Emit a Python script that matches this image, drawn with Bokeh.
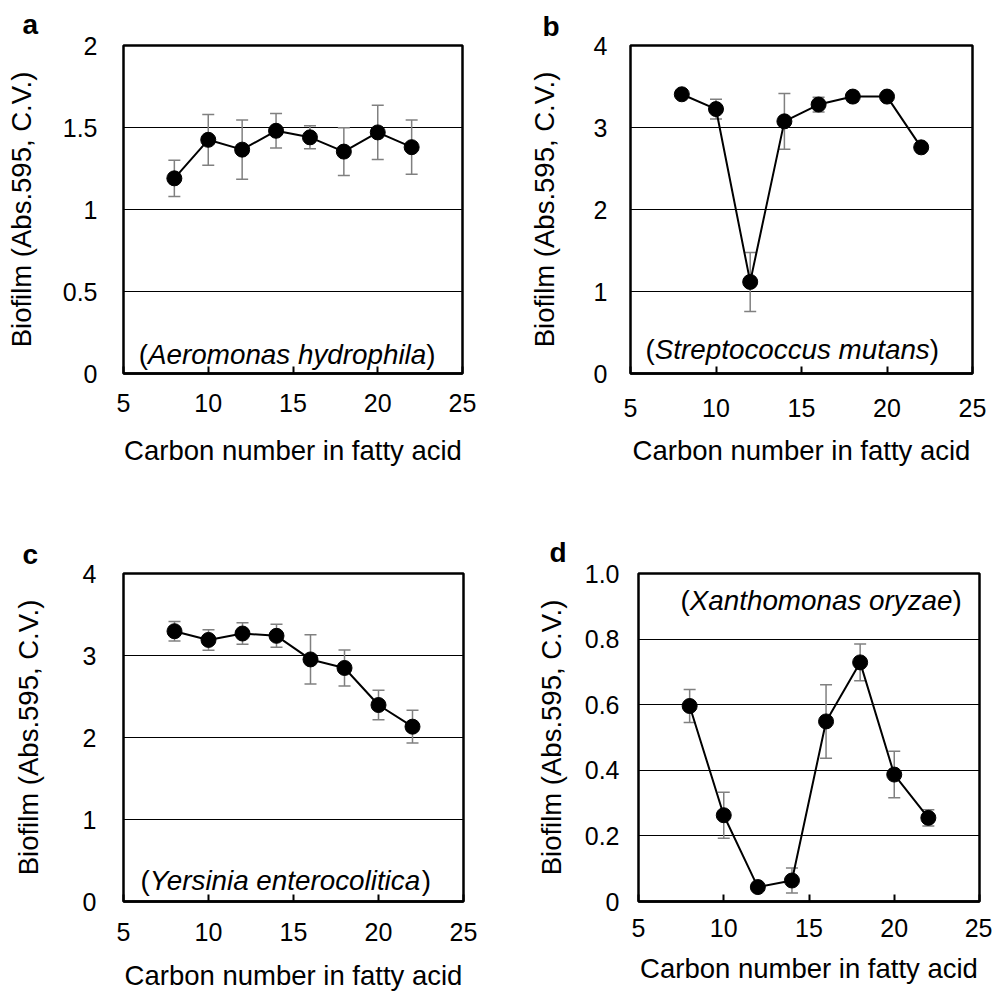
from bokeh.plotting import figure
from bokeh.layouts import column, row
from bokeh.models import (Range1d, FixedTicker, Whisker, TeeHead, ColumnDataSource,
                          Label, CustomJSTickFormatter)
from bokeh.embed import file_html
from bokeh.resources import INLINE

# ---------------- data ----------------
carbon = [8, 10, 12, 14, 16, 18, 20, 22]

a_mean = [1.19, 1.425, 1.365, 1.48, 1.44, 1.353, 1.47, 1.38]
a_err = [0.11, 0.155, 0.18, 0.105, 0.07, 0.145, 0.165, 0.165]

b_mean = [3.405, 3.225, 1.117, 3.075, 3.28, 3.377, 3.377, 2.758]
b_err = [0.04, 0.12, 0.36, 0.34, 0.09, 0.06, 0.03, 0.04]

c_mean = [3.296, 3.19, 3.268, 3.24, 2.952, 2.848, 2.396, 2.132]
c_err = [0.12, 0.125, 0.13, 0.14, 0.30, 0.22, 0.18, 0.20]

d_mean = [0.596, 0.263, 0.044, 0.064, 0.549, 0.729, 0.387, 0.255]
d_err = [0.05, 0.07, 0.0, 0.038, 0.112, 0.056, 0.071, 0.025]

x_ticks = [5, 10, 15, 20, 25]
a_yticks = [0, 0.5, 1, 1.5, 2]
a_ylabels = ["0", "0.5", "1", "1.5", "2"]
bc_yticks = [0, 1, 2, 3, 4]
bc_ylabels = ["0", "1", "2", "3", "4"]
d_yticks = [0, 0.2, 0.4, 0.6, 0.8, 1.0]
d_ylabels = ["0", "0.2", "0.4", "0.6", "0.8", "1.0"]

x_title = "Carbon number in fatty acid"
y_title = "Biofilm (Abs.595, C.V.)"
species = ["Aeromonas hydrophila", "Streptococcus mutans",
           "Yersinia enterocolitica", "Xanthomonas oryzae"]
letters = ["a", "b", "c", "d"]

FONT = "Liberation Sans"
TICK_FS = "25px"
TITLE_FS = "27.5px"
SP_FS = 27.8

# Arial / Liberation Sans advance widths (per 1000 em) for placing the parentheses
ADV = dict(zip("abcdefghijklmnopqrstuvwxyz",
               [556, 556, 500, 556, 556, 278, 556, 556, 222, 222, 500, 222, 833,
                556, 556, 556, 556, 333, 500, 278, 556, 500, 722, 500, 500, 500]))
ADV.update({" ": 278, "A": 667, "S": 667, "X": 667, "Y": 667, "(": 333, ")": 333})


def text_w(s, fs):
    return sum(ADV.get(ch, 556) for ch in s) * fs / 1000.0


def panel(width, height, bl, br, bt, bb, ymax, yticks, ylabels, mean, err,
          letter, name, ylab_so, ytitle_so, xlab_so, xtitle_so,
          letter_dx, letter_so, sp_x, sp_y, xtitle_lh=1.2):
    p = figure(width=width, height=height, x_range=Range1d(5, 25), y_range=Range1d(0, ymax),
               output_backend="svg", toolbar_location=None,
               min_border_left=bl, min_border_right=br, min_border_top=bt, min_border_bottom=bb)
    p.background_fill_color = "white"
    p.border_fill_color = "white"
    p.outline_line_color = "black"
    p.outline_line_width = 2.5

    p.title.text = letter
    p.title.align = "left"
    p.title.offset = letter_dx
    p.title.standoff = int(letter_so)
    p.title.text_font = FONT
    p.title.text_font_size = "28px"
    p.title.text_font_style = "bold"
    p.title.text_color = "black"

    p.xgrid.visible = False
    p.ygrid.ticker = FixedTicker(ticks=yticks)
    p.ygrid.grid_line_color = "black"
    p.ygrid.grid_line_width = 1

    xa = p.xaxis[0]
    xa.ticker = FixedTicker(ticks=x_ticks)
    xa.major_tick_in = 7
    xa.major_tick_out = 0
    xa.major_tick_line_width = 2
    xa.minor_tick_line_color = None
    xa.axis_line_width = 2.5
    xa.major_label_text_font = FONT
    xa.major_label_text_font_size = TICK_FS
    xa.major_label_text_color = "black"
    xa.major_label_standoff = int(xlab_so)
    xa.axis_label = x_title
    xa.axis_label_text_font = FONT
    xa.axis_label_text_font_size = TITLE_FS
    xa.axis_label_text_font_style = "normal"
    xa.axis_label_text_color = "black"
    xa.axis_label_text_line_height = xtitle_lh
    xa.axis_label_standoff = int(xtitle_so)

    ya = p.yaxis[0]
    ya.ticker = FixedTicker(ticks=yticks)
    ya.formatter = CustomJSTickFormatter(
        args=dict(tvals=yticks, tlabels=ylabels),
        code="const i = tvals.indexOf(tick); return i >= 0 ? tlabels[i] : String(tick);")
    ya.major_tick_in = 0
    ya.major_tick_out = 0
    ya.major_tick_line_color = None
    ya.minor_tick_line_color = None
    ya.axis_line_color = None
    ya.major_label_text_font = FONT
    ya.major_label_text_font_size = TICK_FS
    ya.major_label_text_color = "black"
    ya.major_label_standoff = int(ylab_so)
    ya.axis_label = y_title
    ya.axis_label_text_font = FONT
    ya.axis_label_text_font_size = TITLE_FS
    ya.axis_label_text_font_style = "normal"
    ya.axis_label_text_color = "black"
    ya.axis_label_standoff = int(ytitle_so)

    src = ColumnDataSource(dict(
        x=carbon, y=mean,
        lo=[m - e for m, e in zip(mean, err)],
        hi=[m + e for m, e in zip(mean, err)]))
    w = Whisker(base="x", lower="lo", upper="hi", source=src, level="underlay",
                line_color="#808080", line_width=1.5,
                upper_head=TeeHead(size=12, line_color="#808080", line_width=1.5),
                lower_head=TeeHead(size=12, line_color="#808080", line_width=1.5))
    p.add_layout(w)
    p.line("x", "y", source=src, line_color="black", line_width=2)
    p.scatter("x", "y", source=src, size=15, fill_color="black", line_color="black")

    common = dict(y=sp_y, x_units="screen", y_units="screen", text_font=FONT,
                  text_font_size=f"{SP_FS}px", text_color="black",
                  text_baseline="alphabetic", text_align="left")
    x_name = sp_x + text_w("(", SP_FS)
    x_close = x_name + text_w(name, SP_FS)
    p.add_layout(Label(x=sp_x, text="(", **common))
    p.add_layout(Label(x=x_name, text=name, text_font_style="italic", **common))
    p.add_layout(Label(x=x_close, text=")", **common))
    return p


pa = panel(500, 500, 123, 38, 43, 123, 2, a_yticks, a_ylabels, a_mean, a_err,
           letters[0], species[0], 26, 23, 20, 20,
           -101, 12, 15.3, 19.5)
pb = panel(492, 500, 130, 20, 42, 127, 4, bc_yticks, bc_ylabels, b_mean, b_err,
           letters[1], species[1], 23, 31, 25, 15,
           -88, 8, 15, 23.8)
pc = panel(500, 494, 123, 37, 67, 93, 4, bc_yticks, bc_ylabels, c_mean, c_err,
           letters[2], species[2], 27, 36, 21, 16,
           -101, 7, 17, 21.2, xtitle_lh=1.0)
pd = panel(492, 494, 138, 13, 73, 89, 1.0, d_yticks, d_ylabels, d_mean, d_err,
           letters[3], species[3], 19, 15, 17, 13,
           -89, 12, 42, 301, xtitle_lh=1.0)

layout = column(row(pa, pb), row(pc, pd))
open("out.html", "w").write(file_html(layout, INLINE))
